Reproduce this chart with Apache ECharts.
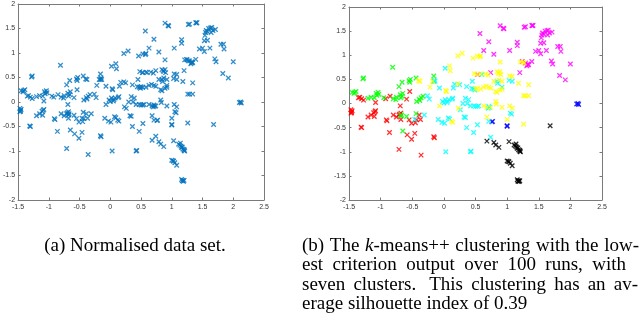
<!DOCTYPE html>
<html>
<head>
<meta charset="utf-8">
<script src="https://cdn.jsdelivr.net/npm/echarts@6/dist/echarts.min.js"></script>
<style>
  html, body { margin: 0; padding: 0; background: #fff; }
  #chart { width: 640px; height: 326px; }
</style>
</head>
<body>
<div id="chart"></div>
<script>
// cluster points, [x, y]
const redPts = [
  [-1.47,-0.13],[-1.46,-0.17],[-1.47,-0.2],[-1.45,-0.15],[-1.46,-0.19],
  [-1.35,0.12],[-1.3,0.1],[-1.27,0.07],[-1.33,0.13],
  [-1.31,-0.49],[-1.3,-0.5],
  [-1.2,-0.28],[-1.15,-0.24],[-1.11,-0.19],[-1.08,-0.15],[-1.1,-0.27],[-1.09,-0.17],
  [-1.08,0.02],[-0.92,0.1],[-0.85,0.15],
  [-0.91,-0.34],[-0.9,-0.36],[-0.86,-0.6],
  [-0.8,-0.24],[-0.75,-0.28],[-0.71,-0.24],[-0.68,-0.2],[-0.68,-0.33],[-0.7,-0.22],
  [-0.69,-0.05],[-0.71,-0.95],[-0.59,0.09],
  [-0.58,-0.65],[-0.51,-0.74],[-0.46,-0.62],
  [-0.55,-0.34],[-0.51,-0.41],[-0.43,-0.34],[-0.39,-0.24],[-0.37,-0.33],[-0.45,-0.4],
  [-0.36,-1.07],[-0.16,-0.69],[-0.15,-0.71],[-0.54,0.25]
];
const greenPts = [
  [-1.45,0.23],[-1.41,0.23],[-1.39,0.25],[-1.42,0.21],
  [-1.28,0.51],[-1.27,0.53],
  [-1.2,0.11],[-1.15,0.13],[-1.1,0.12],[-1.06,0.17],[-1.04,0.23],[-1.03,0.19],[-1.07,0.21],
  [-0.95,0.12],[-0.81,0.75],
  [-0.8,0.1],[-0.75,0.13],[-0.69,0.18],[-0.66,0.15],[-0.65,0.21],[-0.71,0.35],[-0.66,0.44],[-0.76,0.08],[-0.68,0.12],
  [-0.68,-0.26],[-0.67,-0.24],[-0.65,-0.57],
  [-0.55,0.47],[-0.53,0.5],[-0.54,0.44],[-0.44,0.53],
  [-0.43,0.04],[-0.39,0.09],[-0.36,0.12],[-0.33,0.15],[-0.38,0.06],
  [-0.44,-0.21],[-0.16,0.57],[-0.16,0.46],[-0.59,-0.27]
];
const yellowPts = [
  [-0.4,0.47],[-0.38,0.46],[-0.22,0.34],[-0.18,0.46],[-0.07,-0.05],
  [0.03,0.27],[0.04,0.25],[0.09,0.78],[0.1,0.68],
  [0.22,0.41],[0.23,-0.1],[0.22,0.99],[0.29,1.04],
  [0.14,-0.39],[0.12,-0.37],[0.46,0.94],
  [0.53,0.98],[0.58,0.99],[0.57,0.97],[0.48,0.62],[0.53,0.3],[0.5,0.31],
  [0.89,0.86],[1.21,0.86],[1.25,0.86],[1.27,0.84],
  [0.52,0.6],[0.58,0.61],[0.66,0.61],[0.7,0.59],
  [0.84,0.66],[0.87,0.62],[0.89,0.66],[0.9,0.6],[0.86,0.64],
  [0.58,0.3],[0.63,0.34],[0.67,0.36],[0.71,0.34],[0.74,0.32],
  [0.82,0.25],[0.84,0.23],[0.89,0.28],[0.92,0.3],
  [0.79,0.46],[0.87,0.49],[0.92,0.46],
  [1.04,0.57],[1.08,0.56],[1.18,0.42],[1.34,0.39],
  [1.26,0.16],[1.29,0.16],[1.34,0.16],
  [0.63,-0.05],[0.68,-0.08],[0.74,-0.08],
  [0.82,0.04],[0.83,-0.01],[0.92,-0.08],
  [1.04,-0.05],[1.08,-0.1],[0.68,-0.28],[1.0,-0.33],[1.26,-0.43]
];
const cyanPts = [
  [-0.31,-0.24],[-0.46,-0.33],[-0.26,0.16],[-0.23,0.09],
  [-0.15,0.49],[-0.14,0.46],[-0.07,0.32],[-0.09,-0.33],
  [-0.02,0.04],[0.02,0.08],[0.05,0.02],[0.0,0.01],[0.08,0.08],[0.06,0.05],
  [0.02,0.73],[0.03,-1.0],
  [-0.03,-0.39],[0.01,-0.41],[0.07,-0.3],[0.09,-0.32],
  [0.13,0.09],[0.14,0.11],[0.15,0.32],[0.17,0.4],[0.25,0.39],
  [0.26,-0.13],[0.3,0.0],[0.36,0.35],[0.39,0.08],[0.34,0.11],
  [0.32,-0.28],[0.34,-0.29],[0.36,-0.5],[0.47,-0.6],
  [0.42,-1.0],[0.43,-0.99],[0.45,0.46],[0.49,0.28],
  [0.53,-0.06],[0.55,-0.05],[0.53,-0.44],[0.37,0.0],[0.42,-0.05],
  [0.6,0.6],[0.84,0.46],[0.85,0.42],[1.03,0.48],[1.08,0.46],
  [0.44,0.31],[0.47,0.3],
  [0.71,-0.06],[0.7,-0.1],[0.72,-0.08],[0.47,-0.05],[0.5,-0.06],
  [1.05,-0.2],[1.07,-0.22],[0.71,-0.37],[0.74,-0.7],[0.92,0.34]
];
const magentaPts = [
  [0.57,1.45],[0.71,1.28],[0.63,1.1],[0.79,1.02],
  [0.89,1.61],[0.94,1.56],[0.95,1.55],[1.04,1.1],
  [1.16,1.27],[1.16,1.2],[1.27,1.58],[1.29,1.59],
  [1.39,1.62],[1.41,1.62],[1.4,1.61],
  [1.45,1.08],[1.5,1.1],[1.53,1.03],
  [1.55,1.42],[1.56,1.46],[1.58,1.44],[1.6,1.5],[1.63,1.51],[1.65,1.52],[1.67,1.46],[1.71,1.48],[1.64,1.42],[1.54,1.36],
  [1.53,1.25],[1.58,1.26],[1.62,1.1],
  [1.8,1.18],[1.84,1.18],[1.85,1.08],
  [1.7,0.88],[1.72,0.82],[2.0,0.82],[1.83,0.58],[1.92,0.49],
  [1.2,0.64],[1.24,0.87],[1.29,0.84],[1.32,0.8],[1.34,0.8],[1.33,0.82],[1.31,0.78],
  [1.39,0.87],[0.74,0.64],[0.53,0.6]
];
const bluePts = [
  [0.76,-0.38],[0.77,-0.37],[1.0,-0.46],[1.0,-0.47],[2.1,-0.01],[2.13,-0.02],[2.12,0.0]
];
const blackPts = [
  [0.68,-0.78],[0.79,-0.81],[0.82,-0.86],[0.87,-0.91],[1.03,-0.79],
  [1.11,-0.86],[1.13,-0.88],[1.15,-0.9],[1.16,-0.93],[1.18,-0.96],[1.2,-0.99],[1.21,-1.0],
  [1.14,-0.84],[1.17,-0.92],[1.2,-0.97],
  [1.0,-1.19],[1.03,-1.21],[1.05,-1.24],[1.08,-1.29],[1.02,-1.2],
  [1.16,-1.58],[1.18,-1.6],[1.19,-1.62],[1.17,-1.61],[1.2,-1.6],
  [1.68,-0.46]
];

const clusters = [
  { pts: redPts, color: '#ff0000' },
  { pts: greenPts, color: '#00ff00' },
  { pts: bluePts, color: '#0000ff' },
  { pts: cyanPts, color: '#00ffff' },
  { pts: magentaPts, color: '#ff00ff' },
  { pts: yellowPts, color: '#ffff00' },
  { pts: blackPts, color: '#000000' }
];
const allPts = [].concat(redPts, greenPts, bluePts, cyanPts, magentaPts, yellowPts, blackPts);

const captionA = '(a) Normalised data set.';
const captionB = [
  '(b) The k-means++ clustering with the low-',
  'est criterion output over 100 runs, with',
  'seven clusters.  This clustering has an av-',
  'erage silhouette index of 0.39'
];

const axisGray = '#7a7a7a';
const crossMark = 'path://M0,0L10,10M10,0L0,10';
const serif = '"Liberation Serif", "Times New Roman", serif';

function xAxisPair(gi) {
  const base = {
    gridIndex: gi, type: 'value', min: -1.5, max: 2.5, interval: 0.5,
    axisLine: { show: true, onZero: false, lineStyle: { color: axisGray, width: 1 } },
    axisTick: { show: true, inside: true, length: 2.5, lineStyle: { color: axisGray } },
    splitLine: { show: false }
  };
  return [
    Object.assign({}, base, { position: 'bottom',
      axisLabel: { fontSize: 7, color: '#333', margin: 4, fontFamily: 'Liberation Sans' } }),
    Object.assign({}, base, { position: 'top', axisLabel: { show: false } })
  ];
}
function yAxisPair(gi) {
  const base = {
    gridIndex: gi, type: 'value', min: -2, max: 2, interval: 0.5,
    axisLine: { show: true, onZero: false, lineStyle: { color: axisGray, width: 1 } },
    axisTick: { show: true, inside: true, length: 2.5, lineStyle: { color: axisGray } },
    splitLine: { show: false }
  };
  return [
    Object.assign({}, base, { position: 'left',
      axisLabel: { fontSize: 7, color: '#333', margin: 3, fontFamily: 'Liberation Sans' } }),
    Object.assign({}, base, { position: 'right', axisLabel: { show: false } })
  ];
}

function scatter(data, color, xi, yi) {
  return {
    type: 'scatter', xAxisIndex: xi, yAxisIndex: yi, data: data,
    symbol: crossMark, symbolSize: 4.5,
    itemStyle: { color: 'transparent', borderColor: color, borderWidth: 1.3 },
    emphasis: { disabled: true }
  };
}

// justified caption lines, words placed by measured widths
const ctx = document.createElement('canvas').getContext('2d');
function measure(word, italic) {
  ctx.font = (italic ? 'italic ' : '') + '19px ' + serif;
  return ctx.measureText(word).width;
}
function wordWidth(w) {
  if (w.indexOf('k-') === 0) return measure('k', true) + measure(w.slice(1), false);
  return measure(w, false);
}
function wordElem(w, x, y) {
  if (w.indexOf('k-') === 0) {
    return {
      type: 'text', x: x, y: y,
      style: { text: '{i|k}' + w.slice(1), fontSize: 19, fontFamily: serif, fill: '#000',
        verticalAlign: 'middle', rich: { i: { fontStyle: 'italic', fontSize: 19, fontFamily: serif } } }
    };
  }
  return { type: 'text', x: x, y: y,
    style: { text: w, fontSize: 19, fontFamily: serif, fill: '#000', verticalAlign: 'middle' } };
}
const lineLeft = 302;
const lineRight = [639, 626, 638, null];
const lineY = [246, 265.5, 285, 304.5];
const captionElems = [];
captionB.forEach(function (line, li) {
  const words = line.split(/ +/);
  const gapsW = [];
  for (let i = 0; i < words.length - 1; i++) gapsW.push(/\.$/.test(words[i]) ? 1.6 : 1);
  const widths = words.map(wordWidth);
  const total = widths.reduce(function (a, b) { return a + b; }, 0);
  let unit;
  if (lineRight[li] === null) unit = measure(' ', false);
  else unit = (lineRight[li] - lineLeft - total) / gapsW.reduce(function (a, b) { return a + b; }, 0);
  let x = lineLeft;
  words.forEach(function (w, i) {
    captionElems.push(wordElem(w, x, lineY[li]));
    x += widths[i] + (i < gapsW.length ? gapsW[i] * unit : 0);
  });
});
captionElems.push({
  type: 'text', x: 135, y: 246,
  style: { text: captionA, fontSize: 19, fontFamily: serif, fill: '#000', align: 'center', verticalAlign: 'middle' }
});

const chart = echarts.init(document.getElementById('chart'));
const series = [scatter(allPts, '#0072bd', 0, 0)];
clusters.forEach(function (c) { series.push(scatter(c.pts, c.color, 2, 2)); });

chart.setOption({
  animation: false,
  backgroundColor: '#fff',
  grid: [
    { left: 17, top: 4, width: 247, height: 196 },
    { left: 349, top: 7, width: 253, height: 193 }
  ],
  xAxis: xAxisPair(0).concat(xAxisPair(1)),
  yAxis: yAxisPair(0).concat(yAxisPair(1)),
  series: series,
  graphic: captionElems
});
</script>
</body>
</html>
